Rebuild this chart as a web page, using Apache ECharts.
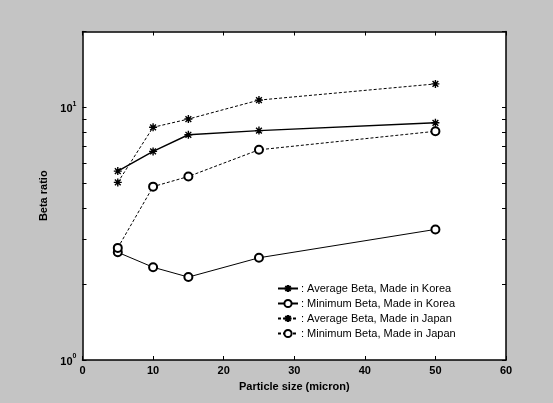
<!DOCTYPE html>
<html>
<head>
<meta charset="utf-8">
<script src="https://cdn.jsdelivr.net/npm/echarts@6/dist/echarts.min.js"></script>
<style>html,body{margin:0;padding:0;background:#c4c4c4;}#c{width:553px;height:403px;}</style>
</head>
<body>
<div id="c"></div>
<script>
const particleSizes = [5, 10, 15, 25, 50];
const avgKorea = [5.6, 6.7, 7.8, 8.1, 8.7];
const minKorea = [2.67, 2.33, 2.13, 2.54, 3.29];
const avgJapan = [5.05, 8.35, 9.0, 10.7, 12.4];
const minJapan = [2.78, 4.86, 5.33, 6.8, 8.05];
const seriesNames = [
  'Average Beta, Made in Korea',
  'Minimum Beta, Made in Korea',
  'Average Beta, Made in Japan',
  'Minimum Beta, Made in Japan'
];
const xTicks = [0, 10, 20, 30, 40, 50, 60];
const yMajorTicks = [1, 10];
const yMinorTicks = [1, 2, 3, 4, 5, 6, 7, 8, 9, 10, 20];

const pts = arr => particleSizes.map((x, i) => [x, arr[i]]);
const starPath = 'path://M0,-5L0,5M-5,0L5,0M-3.6,-3.6L3.6,3.6M-3.6,3.6L3.6,-3.6';

const chart = echarts.init(document.getElementById('c'), null, {renderer: 'canvas'});
const axisLineStyle = {color: '#000', width: 1.5};
const supLabel = {
  formatter: v => '{b|10}{s|' + Math.round(Math.log10(v)) + '}',
  rich: {
    b: {fontSize: 11, fontWeight: 'bold', color: '#000', fontFamily: 'Liberation Sans', lineHeight: 14, verticalAlign: 'bottom'},
    s: {fontSize: 7, fontWeight: 'bold', color: '#000', fontFamily: 'Liberation Sans', lineHeight: 14, verticalAlign: 'top'}
  },
  margin: 6,
  customValues: yMajorTicks
};

const mk = (name, arr, isStar, dashed, w) => ({
  name: name,
  type: 'line',
  data: pts(arr),
  symbol: isStar ? starPath : 'emptyCircle',
  symbolSize: 8,
  showSymbol: true,
  lineStyle: {color: '#000', width: w, type: dashed ? [3, 2] : 'solid'},
  itemStyle: isStar ? {color: '#000', borderColor: '#000', borderWidth: 1.4} : {color: '#000', borderColor: '#000', borderWidth: 0.8},
  emphasis: {disabled: true},
  animation: false
});

chart.setOption({
  backgroundColor: '#c4c4c4',
  animation: false,
  grid: {left: 82.5, right: 47, top: 31.5, bottom: 43, show: true, backgroundColor: '#fff', borderWidth: 0},
  legend: {
    orient: 'vertical',
    left: 272,
    top: 278,
    itemWidth: 20,
    itemHeight: 9,
    itemGap: 4,
    data: seriesNames,
    formatter: n => ': ' + n,
    textStyle: {fontSize: 11, color: '#000', fontFamily: 'Liberation Sans', padding: [0, 0, 0, -2]},
    backgroundColor: 'transparent'
  },
  xAxis: [{
    type: 'value', min: 0, max: 60, interval: 10,
    name: 'Particle size (micron)', nameLocation: 'middle', nameGap: 21,
    nameTextStyle: {fontSize: 11, fontWeight: 'bold', color: '#000', fontFamily: 'Liberation Sans'},
    axisLine: {show: true, onZero: false, lineStyle: axisLineStyle},
    axisTick: {show: true, inside: true, length: 4, lineStyle: {color: '#000'}, customValues: xTicks},
    axisLabel: {fontSize: 11, fontWeight: 'bold', color: '#000', fontFamily: 'Liberation Sans', margin: 5, customValues: xTicks},
    splitLine: {show: false}
  }, {
    type: 'value', min: 0, max: 60, interval: 10, position: 'top',
    axisLine: {show: true, onZero: false, lineStyle: axisLineStyle},
    axisTick: {show: true, inside: true, length: 4, lineStyle: {color: '#000'}},
    axisLabel: {show: false},
    splitLine: {show: false}
  }],
  yAxis: [{
    type: 'log', logBase: 10, min: 1, max: 20,
    name: 'Beta ratio', nameLocation: 'middle', nameGap: 27,
    nameTextStyle: {fontSize: 11, fontWeight: 'bold', color: '#000', fontFamily: 'Liberation Sans'},
    axisLine: {show: true, onZero: false, lineStyle: axisLineStyle},
    axisTick: {show: true, inside: true, length: 4, lineStyle: {color: '#000'}, customValues: yMinorTicks},
    axisLabel: supLabel,
    splitLine: {show: false}
  }, {
    type: 'log', logBase: 10, min: 1, max: 20, position: 'right',
    axisLine: {show: true, onZero: false, lineStyle: axisLineStyle},
    axisTick: {show: true, inside: true, length: 4, lineStyle: {color: '#000'}, customValues: yMinorTicks},
    axisLabel: {show: false},
    splitLine: {show: false}
  }],
  series: [
    mk(seriesNames[0], avgKorea, true, false, 1.4),
    mk(seriesNames[1], minKorea, false, false, 1),
    mk(seriesNames[2], avgJapan, true, true, 1),
    mk(seriesNames[3], minJapan, false, true, 1)
  ]
});
</script>
</body>
</html>
